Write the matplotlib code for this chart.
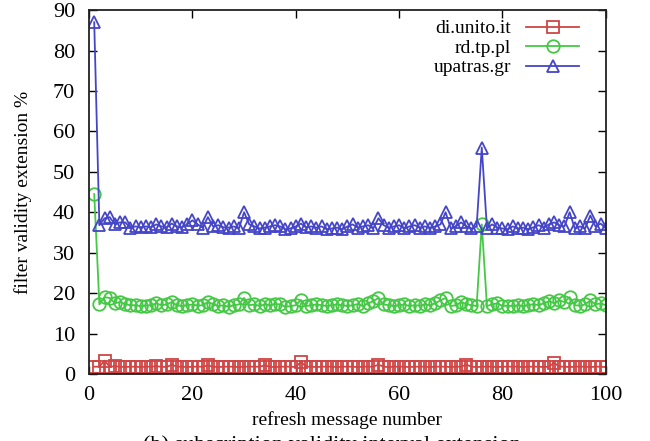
import matplotlib
matplotlib.use("Agg")
import matplotlib.pyplot as plt

plt.rcParams["font.family"] = ["Liberation Serif", "DejaVu Serif"]

msg = list(range(1, 101))

unito = [1.8, 1.8, 3.3, 1.8, 1.9, 1.8, 1.7, 1.8, 1.8, 1.7,
         1.8, 1.8, 1.9, 1.8, 1.7, 2.3, 1.8, 1.8, 1.7, 1.8,
         1.8, 1.8, 2.1, 1.8, 1.7, 1.8, 1.8, 1.8, 1.7, 1.8,
         1.8, 1.8, 1.8, 2.1, 1.8, 1.7, 1.8, 1.8, 1.8, 1.7,
         3.0, 1.8, 1.8, 1.7, 1.8, 1.8, 1.8, 1.7, 1.8, 1.8,
         1.8, 1.7, 1.8, 1.8, 1.8, 2.3, 1.8, 1.7, 1.8, 1.8,
         1.8, 1.7, 1.8, 1.8, 1.8, 1.7, 1.8, 1.8, 1.8, 1.7,
         1.8, 1.8, 2.3, 1.8, 1.7, 1.8, 1.8, 1.8, 1.7, 1.8,
         1.8, 1.8, 1.8, 1.7, 1.8, 1.8, 1.8, 1.7, 1.8, 2.8,
         1.8, 1.8, 1.7, 1.8, 1.8, 1.8, 1.7, 1.8, 1.8, 1.7]

tppl = [44.5, 17.2, 19.0, 18.8, 17.5, 17.8, 17.3, 17.0, 17.0, 16.8,
        16.9, 17.0, 17.5, 17.0, 17.2, 17.8, 17.0, 16.8, 17.0, 17.2,
        16.9, 17.0, 17.8, 17.3, 16.8, 17.0, 16.6, 17.0, 17.2, 18.8,
        17.0, 17.2, 16.8, 17.2, 17.0, 17.3, 17.2, 16.6, 16.8, 17.0,
        18.3, 16.8, 17.0, 17.2, 17.0, 16.8, 17.0, 17.2, 17.0, 16.8,
        17.0, 17.3, 16.8, 17.5, 18.0, 18.8, 17.2, 17.0, 16.8, 17.0,
        17.2, 16.8, 17.0, 16.9, 17.2, 17.0, 17.5, 18.2, 18.8, 16.8,
        17.0, 17.8, 17.3, 17.0, 16.8, 37.0, 16.8, 17.2, 17.5, 16.8,
        16.9, 16.8, 17.0, 16.8, 17.0, 17.3, 17.0, 17.5, 18.0, 17.5,
        18.2, 17.8, 19.0, 17.0, 16.9, 17.2, 18.2, 17.2, 17.5, 17.0]

upatras = [87.0, 36.8, 38.5, 38.8, 37.0, 37.5, 37.5, 36.2, 36.5, 36.3,
           36.5, 36.3, 37.0, 36.5, 36.3, 37.2, 36.5, 36.3, 37.0, 38.0,
           37.0, 36.2, 38.8, 36.5, 36.8, 36.3, 36.2, 36.5, 36.0, 40.0,
           37.0, 36.5, 36.0, 36.2, 36.5, 36.8, 36.5, 35.8, 36.0, 36.5,
           37.2, 36.3, 36.5, 36.2, 36.5, 35.8, 36.0, 36.2, 35.8, 36.5,
           37.0, 36.2, 36.5, 36.8, 36.0, 38.5, 36.8, 36.2, 36.5, 36.8,
           36.0, 36.5, 36.8, 36.2, 36.5, 36.2, 36.5, 37.0, 40.0, 36.0,
           36.5, 37.5, 36.5, 36.0, 36.5, 56.0, 36.0, 37.0, 36.2, 36.0,
           35.8, 36.5, 36.0, 36.2, 35.8, 36.3, 36.8, 36.2, 37.0, 37.5,
           36.8, 36.5, 40.0, 36.0, 36.5, 36.0, 39.2, 36.5, 37.2, 36.0]

fig = plt.figure(figsize=(6.5, 4.41), dpi=100)
ax = fig.add_axes([0.137, 0.152, 0.795, 0.825])

ax.plot(msg, unito, color="#d04545", lw=1.3, marker="s", ms=8,
        mfc="none", mew=1.3, label="di.unito.it")
ax.plot(msg, tppl, color="#45c845", lw=1.3, marker="o", ms=9,
        mfc="none", mew=1.3, label="rd.tp.pl")
ax.plot(msg, upatras, color="#4545c8", lw=1.3, marker="^", ms=9,
        mfc="none", mew=1.3, label="upatras.gr")

ax.set_xlim(0, 100)
ax.set_ylim(0, 90)
ax.set_xticks(range(0, 101, 20))
ax.set_yticks(range(0, 91, 10))
ax.tick_params(direction="in", top=True, right=True, labelsize=16,
               length=6, width=1)
ax.tick_params(axis="x", pad=9)
ax.tick_params(axis="y", pad=10)
for s in ax.spines.values():
    s.set_linewidth(1.3)
    s.set_color("#222222")

ax.set_xlabel("refresh message number", fontsize=14, labelpad=4)
ax.set_ylabel("filter validity extension %", fontsize=14, labelpad=15)

ax.legend(loc="upper right", frameon=False, markerfirst=False,
          fontsize=14, handlelength=2.7, labelspacing=0.1,
          borderaxespad=0.0, bbox_to_anchor=(0.963, 0.995))

fig.text(0.51, 0.013, "(b) subscription validity interval extension",
         ha="center", va="top", fontsize=16)

fig.savefig("out.png", dpi=100)
